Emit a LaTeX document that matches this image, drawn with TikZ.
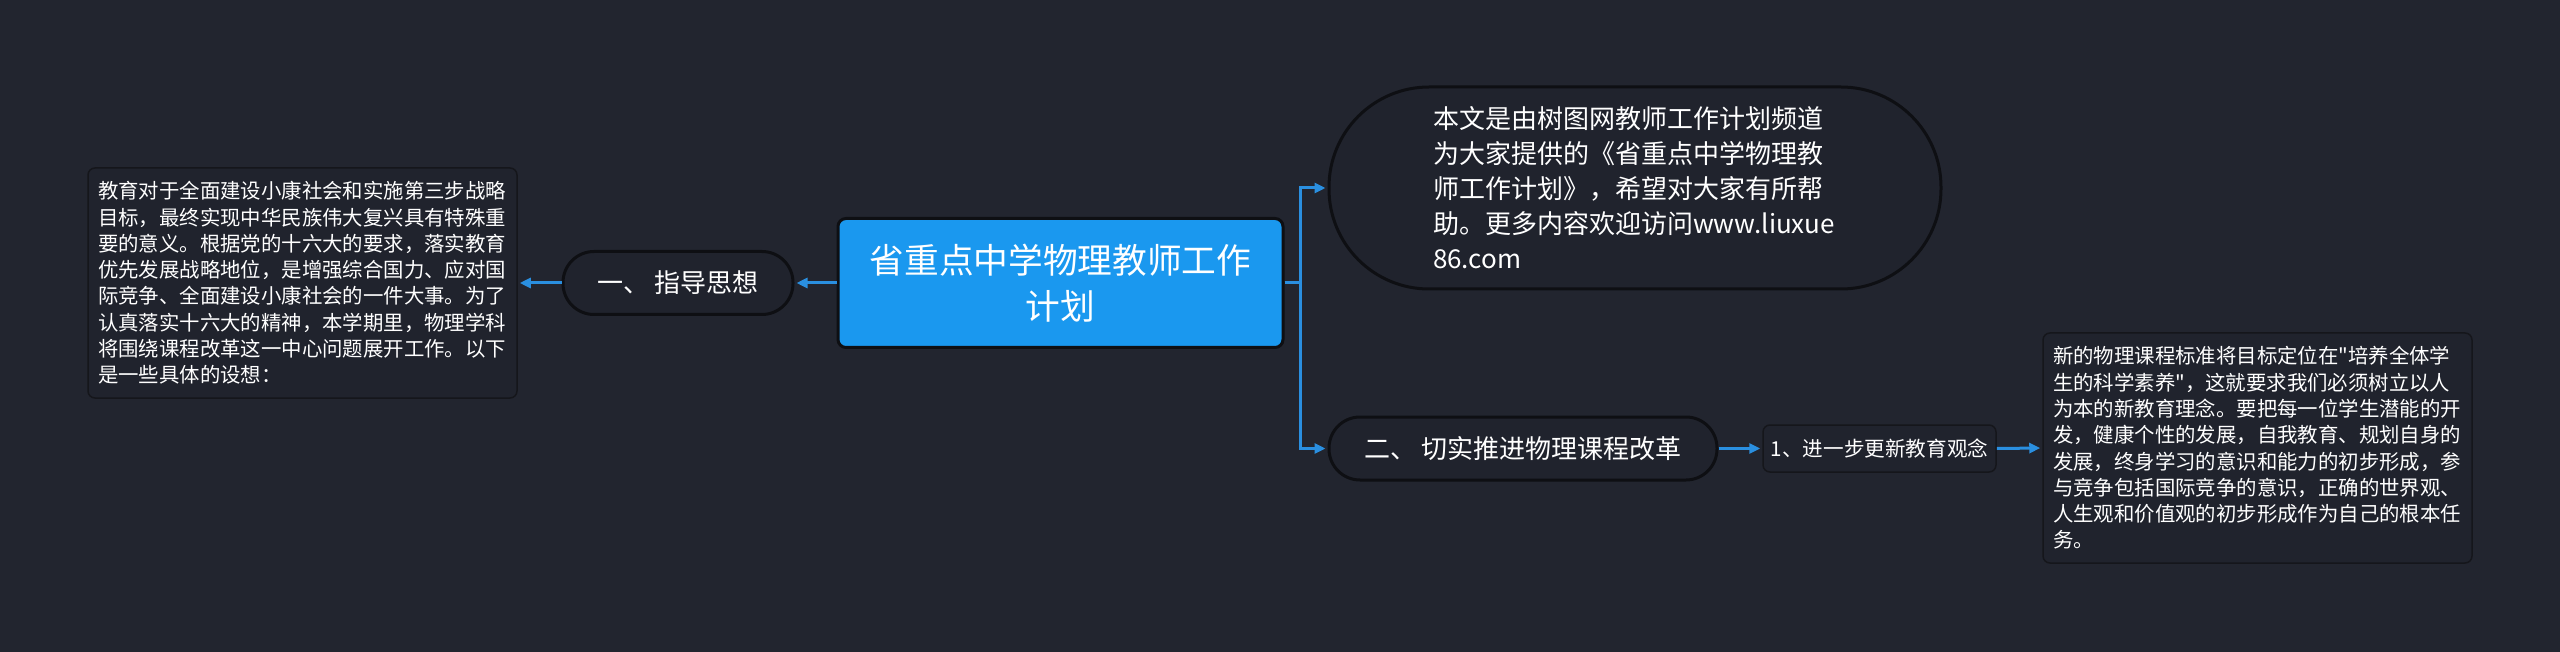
\documentclass[tikz,border=0pt]{standalone}
\usepackage{fontspec}
\setmainfont{Noto Sans CJK SC}[Ligatures=TeXOff]
\usetikzlibrary{arrows.meta}
\definecolor{bgcol}{HTML}{22252F}
\definecolor{nodefill}{HTML}{20232D}
\definecolor{rootblue}{HTML}{1A98EF}
\definecolor{linkblue}{HTML}{2A8FE0}
\definecolor{nodeborder}{HTML}{0E0F13}
\definecolor{boxborder}{HTML}{15161B}
\begin{document}
\begin{tikzpicture}[x=1pt,y=-1pt,
  pill/.style={draw=nodeborder, line width=3pt, fill=nodefill, rounded corners=31pt,
    minimum height=63pt, inner sep=0pt, text=white, font=\fontsize{26}{32}\selectfont},
  textbox/.style={draw=boxborder, line width=1.5pt, fill=nodefill, rounded corners=7pt,
    text=white, align=left, inner xsep=10pt, inner ysep=0pt,
    font=\fontsize{20.4}{26.3}\selectfont},
  rootbox/.style={draw=nodeborder, line width=3pt, fill=rootblue, rounded corners=8pt,
    text=white, align=center, inner sep=0pt, font=\fontsize{34.7}{46}\selectfont},
  link/.style={draw=linkblue, line width=3pt, shorten >=2pt,
    -{Triangle[length=11pt,width=10pt]}}
]
\fill[bgcol] (0,0) rectangle (2560,652);
\useasboundingbox (0,0) rectangle (2560,652);

\node[rootbox, minimum width=445pt, minimum height=129pt] (root) at (1060.5,283)
  {省重点中学物理教师工作\\计划};

\node[pill, minimum width=230pt] (p1) at (678,283) {一、 指导思想};

\node[textbox, text width=409pt, minimum height=230pt] (lbox) at (302.5,283)
  {教育对于全面建设小康社会和实施第三步战略\\
   目标，最终实现中华民族伟大复兴具有特殊重\\
   要的意义。根据党的十六大的要求，落实教育\\
   优先发展战略地位，是增强综合国力、应对国\\
   际竞争、全面建设小康社会的一件大事。为了\\
   认真落实十六大的精神，本学期里，物理学科\\
   将围绕课程改革这一中心问题展开工作。以下\\
   是一些具体的设想：};

\node[pill, rounded corners=100pt, minimum width=612pt, minimum height=202pt,
  text width=404pt, align=left, font=\fontsize{26}{35}\selectfont] (tp) at (1635,188)
  {本文是由树图网教师工作计划频道\\
   为大家提供的《省重点中学物理教\\
   师工作计划》，希望对大家有所帮\\
   助。更多内容欢迎访问www.liuxue\\
   86.com};

\node[pill, minimum width=388pt] (p2) at (1523,448.5) {二、 切实推进物理课程改革};

\node[textbox, align=center, inner xsep=0pt, minimum width=233pt, minimum height=47pt,
  font=\fontsize{20.6}{24}\selectfont] (b1) at (1879.5,448.5) {1、进一步更新教育观念};

\node[textbox, text width=409pt, minimum height=230pt] (rbox) at (2257.5,448)
  {新的物理课程标准将目标定位在"培养全体学\\
   生的科学素养"，这就要求我们必须树立以人\\
   为本的新教育理念。要把每一位学生潜能的开\\
   发，健康个性的发展，自我教育、规划自身的\\
   发展，终身学习的意识和能力的初步形成，参\\
   与竞争包括国际竞争的意识，正确的世界观、\\
   人生观和价值观的初步形成作为自己的根本任\\
   务。};

\draw[link] (root.west) -- (p1.east);
\draw[link] (p1.west) -- (lbox.east);
\draw[link] (root.east) -- ++(16,0) |- (tp.west);
\draw[link] (root.east) -- ++(16,0) |- (p2.west);
\draw[link] (p2.east) -- (b1.west);
\draw[link] (b1.east) -- (rbox.west);
\end{tikzpicture}
\end{document}
